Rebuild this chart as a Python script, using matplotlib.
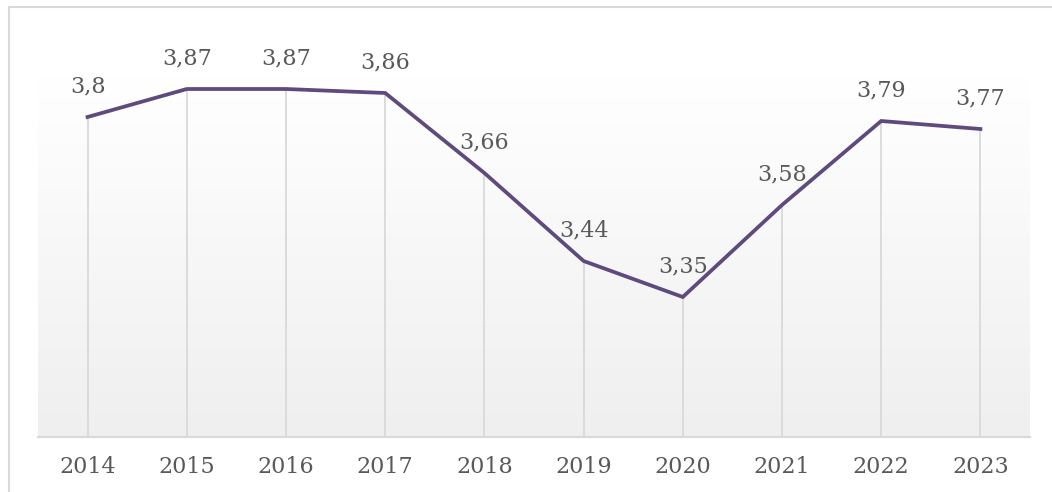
import numpy as np
import matplotlib
matplotlib.use("Agg")
import matplotlib.pyplot as plt
from matplotlib.lines import Line2D

years = ["2014", "2015", "2016", "2017", "2018", "2019", "2020", "2021", "2022", "2023"]
values = [3.80, 3.87, 3.87, 3.86, 3.66, 3.44, 3.35, 3.58, 3.79, 3.77]
labels = ["3,8", "3,87", "3,87", "3,86", "3,66", "3,44", "3,35", "3,58", "3,79", "3,77"]

plt.rcParams["font.family"] = ["DejaVu Serif"]

fig = plt.figure(figsize=(10.52, 4.92), dpi=100)
ax = fig.add_axes([38 / 1052, 55 / 492, 992 / 1052, 360 / 492])

x = np.arange(len(years))
ax.set_xlim(-0.5, len(years) - 0.5)
ax.set_ylim(3.0, 3.9)

# fondo con degradado (blanco arriba, gris claro abajo)
grad = np.linspace(1.0, 0.0, 256).reshape(-1, 1)
top = np.array([1.0, 1.0, 1.0])
bottom = np.array([0xef, 0xef, 0xef]) / 255
img = top * grad[..., None] + bottom * (1 - grad[..., None])
ax.imshow(img, extent=[-0.5, len(years) - 0.5, 3.0, 3.9], aspect="auto", zorder=0)

# lineas verticales hasta el eje
ax.vlines(x, 3.0, values, color="#d9d9d9", linewidth=1.3, zorder=1)
ax.plot(x, values, color="#5e4a7e", linewidth=2.7, solid_joinstyle="miter", zorder=3)

for xi, v, t in zip(x, values, labels):
    ax.annotate(t, (xi, v), xytext=(0, 14), textcoords="offset points",
                ha="center", va="bottom", fontsize=16, color="#595959")

ax.set_xticks(x)
ax.set_xticklabels(years, fontsize=16, color="#595959")
ax.tick_params(axis="x", length=0, pad=14)
ax.set_yticks([])
for s in ["top", "left", "right"]:
    ax.spines[s].set_visible(False)
ax.spines["bottom"].set_color("#d9d9d9")
ax.spines["bottom"].set_linewidth(1.5)

# borde exterior del grafico
fig.add_artist(Line2D([9 / 1052, 9 / 1052], [0, 1 - 7 / 492], color="#d9d9d9", linewidth=1.5))
fig.add_artist(Line2D([9 / 1052, 1], [1 - 7 / 492, 1 - 7 / 492], color="#d9d9d9", linewidth=1.5))

fig.savefig("out.png", dpi=100)
